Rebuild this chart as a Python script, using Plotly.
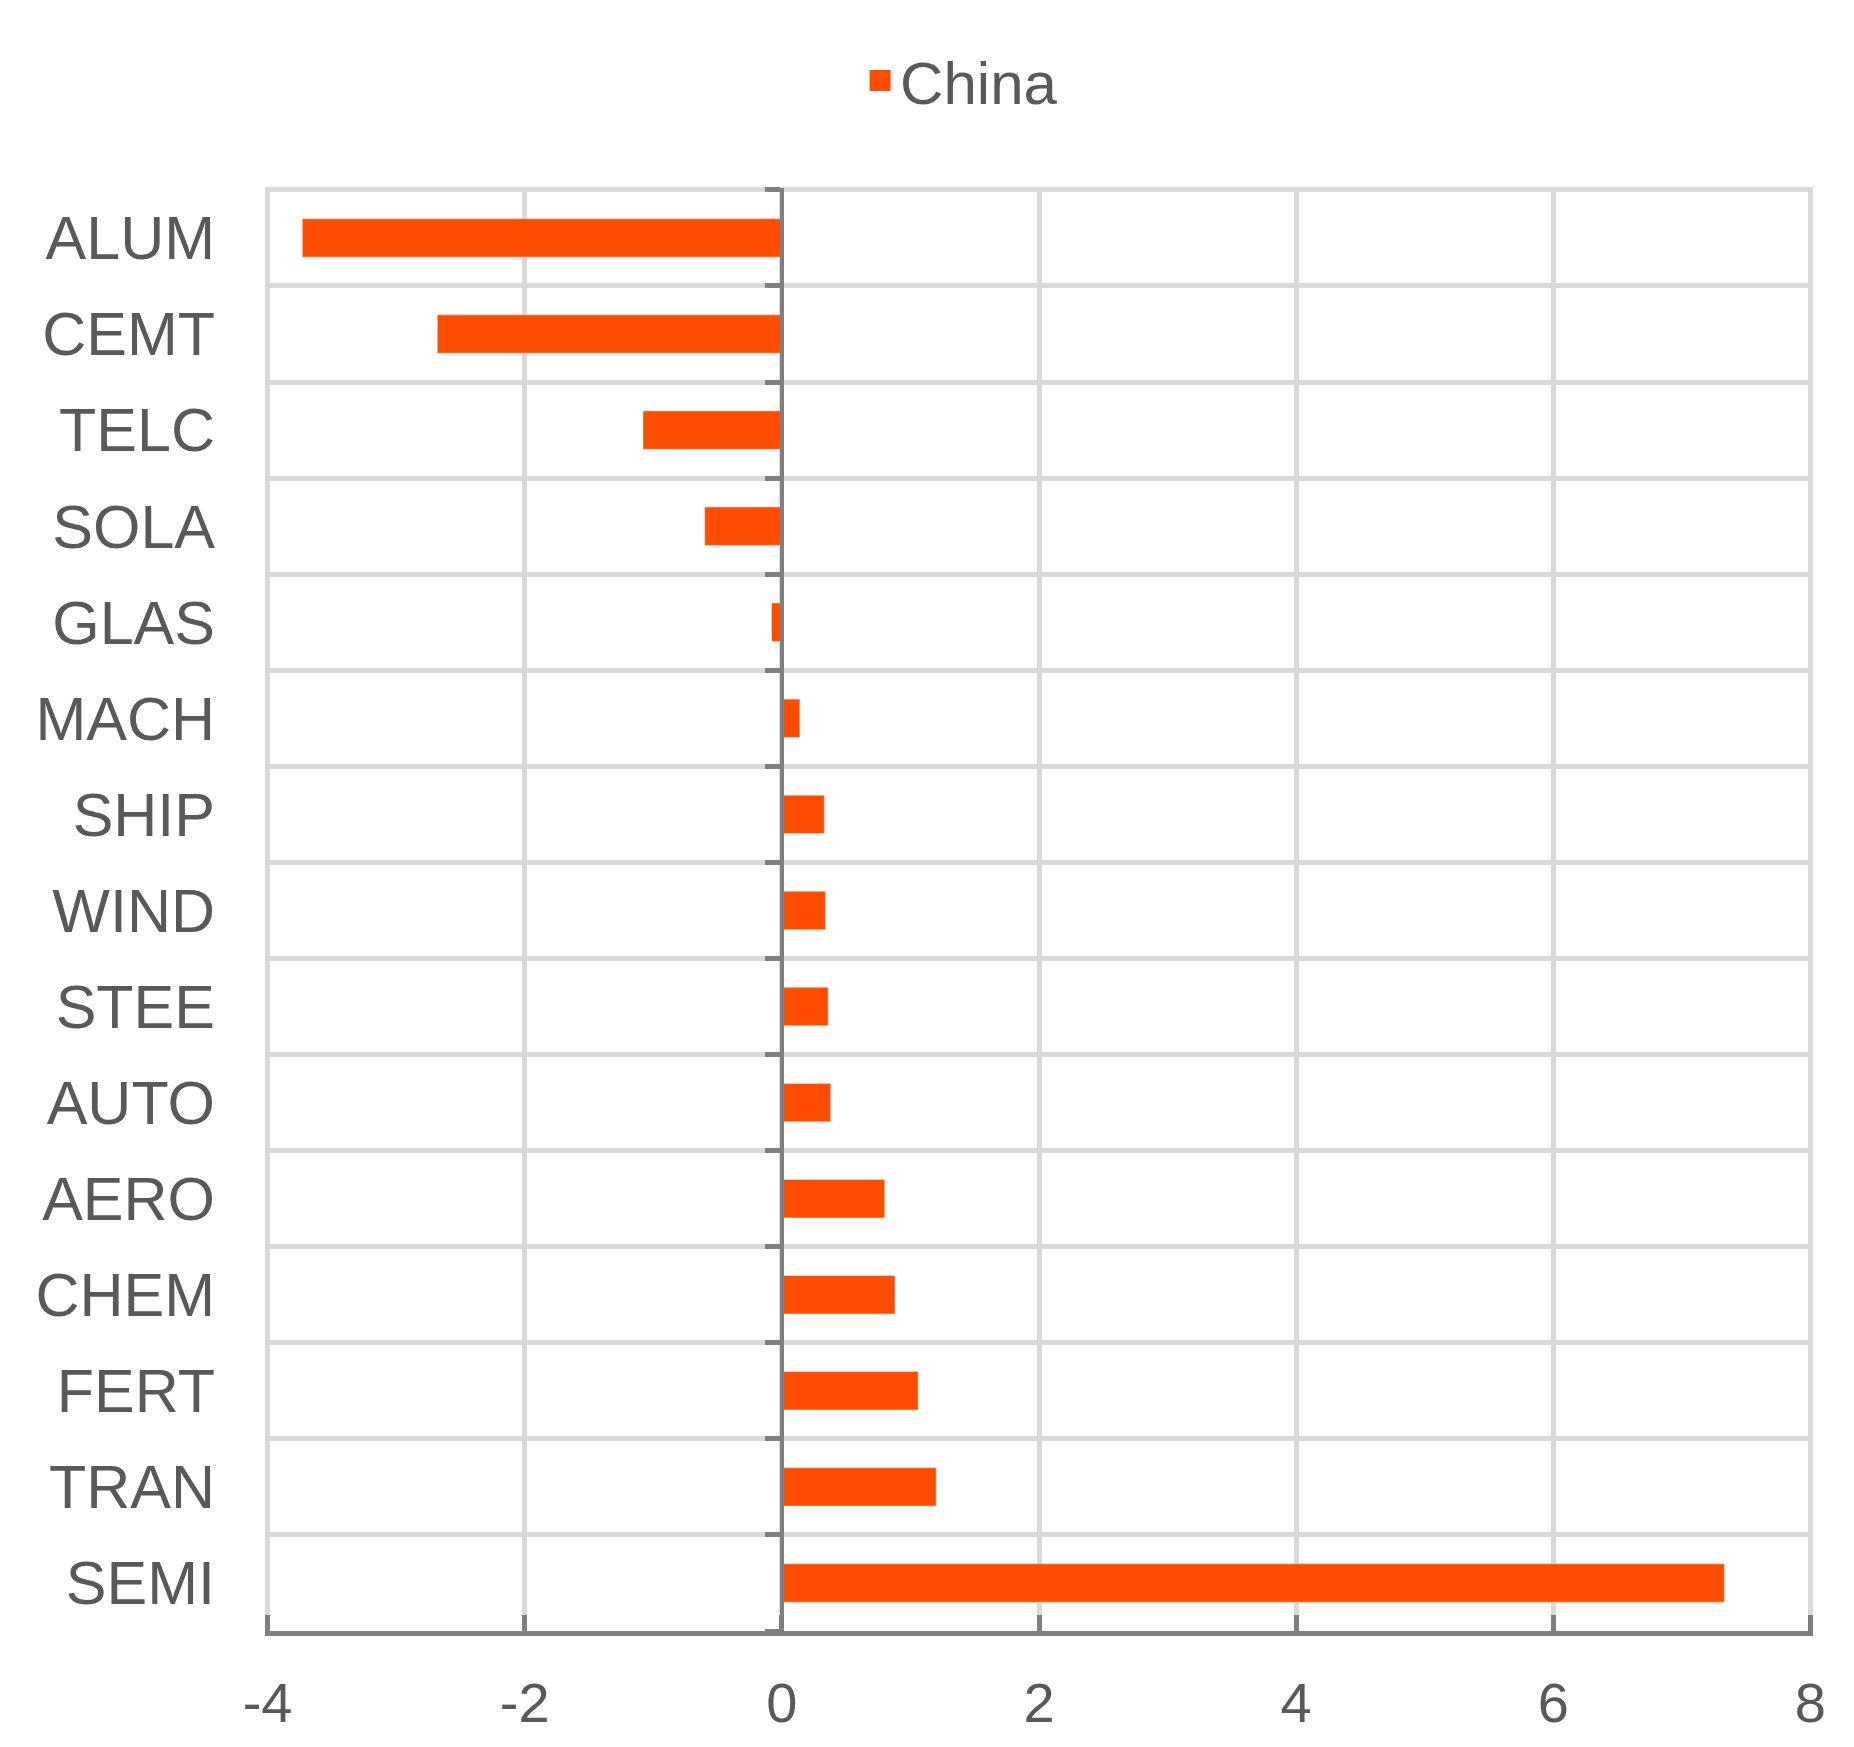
import plotly.graph_objects as go

# Sector codes, top to bottom
sectors = ['ALUM', 'CEMT', 'TELC', 'SOLA', 'GLAS', 'MACH', 'SHIP', 'WIND',
           'STEE', 'AUTO', 'AERO', 'CHEM', 'FERT', 'TRAN', 'SEMI']
china = [-3.73, -2.68, -1.08, -0.60, -0.08, 0.14, 0.33, 0.34,
         0.36, 0.38, 0.80, 0.88, 1.06, 1.20, 7.33]
x_ticks = [-4, -2, 0, 2, 4, 6, 8]

bar_color = '#FF4D00'
text_color = '#595959'
grid_color = '#D9D9D9'
axis_color = '#7F7F7F'
font_family = 'Liberation Sans, Arial, sans-serif'

fig = go.Figure()

# the bars themselves (legend drawn by the helper trace below)
fig.add_trace(go.Bar(
    x=china,
    y=sectors,
    orientation='h',
    width=0.4,
    marker=dict(color=bar_color),
    showlegend=False,
))

# legend entry with a bigger square symbol
fig.add_trace(go.Scatter(
    x=[None], y=[None],
    mode='markers',
    name='China',
    marker=dict(symbol='square', size=16, color=bar_color,
                line=dict(color=bar_color, width=5)),
))

# boundary positions between categories, for the ticks on the zero line
n = len(sectors)
boundaries = [i - 0.5 for i in range(n + 1)]

# tiny padding so the border gridlines at the range ends are not clipped
pad_x = 0.02
pad_y = 0.02

fig.update_layout(
    width=1854,
    height=1747,
    margin=dict(l=257, r=49, t=180, b=124),
    paper_bgcolor='white',
    plot_bgcolor='white',
    font=dict(family=font_family, color=text_color),
    legend=dict(
        orientation='h',
        x=0.45, xanchor='center',
        y=1.0745, yanchor='middle',
        font=dict(size=60, color=text_color),
    ),
    xaxis=dict(
        range=[x_ticks[0] - pad_x, x_ticks[-1] + pad_x],
        tickvals=x_ticks,
        ticktext=[str(v) for v in x_ticks],
        showgrid=True,
        gridcolor=grid_color,
        gridwidth=4.5,
        zeroline=False,
        showline=True,
        linecolor=axis_color,
        linewidth=5,
        ticks='inside',
        ticklen=16,
        tickwidth=5,
        tickcolor=axis_color,
        tickfont=dict(size=56, color=text_color),
        ticklabelstandoff=19,
    ),
    yaxis=dict(
        type='category',
        categoryorder='array',
        categoryarray=sectors,
        range=[n - 0.5, -0.5 - pad_y],
        tickson='boundaries',
        showgrid=True,
        gridcolor=grid_color,
        gridwidth=4.5,
        showline=False,
        ticks='',
        tickfont=dict(size=61, color=text_color),
        ticklabelstandoff=49,
    ),
    yaxis2=dict(
        overlaying='y',
        anchor='free',
        position=(0 - (x_ticks[0] - pad_x)) / (x_ticks[-1] - x_ticks[0] + 2 * pad_x),
        range=[n - 0.5, -0.5 - pad_y],
        tickvals=boundaries,
        showticklabels=False,
        showgrid=False,
        zeroline=False,
        showline=True,
        linecolor=axis_color,
        linewidth=4,
        ticks='outside',
        ticklen=15,
        tickwidth=4.5,
        tickcolor=axis_color,
    ),
)

# attach an invisible trace so the zero-line axis is drawn
fig.add_trace(go.Scatter(x=[None], y=[None], yaxis='y2', showlegend=False,
                         hoverinfo='skip'))

fig.write_html('out.html')
